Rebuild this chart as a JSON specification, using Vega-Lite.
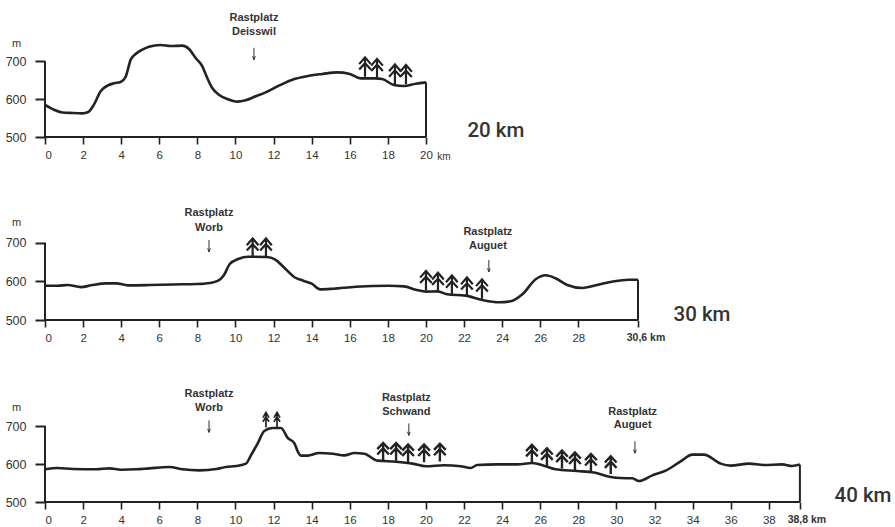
{
"$schema":"https://vega.github.io/schema/vega-lite/v6.json",
"background":"#ffffff",
"padding":{"left":5,"top":0,"right":0,"bottom":0},
"spacing":0,
"bounds":"flush",
"config":{"view":{"stroke":null},"axis":{"grid":false,"title":null}},
"vconcat":[
{"width":849,"height":137,"layer":[
{"data":{"values":[{"km":0,"ele":500,"km2":20}]},"mark":{"type":"rule","stroke":"#222","strokeWidth":2},"encoding":{
"x":{"field":"km","type":"quantitative","scale":{"domain":[0,44.57],"nice":false,"zero":false},"axis":{"values":[0,2,4,6,8,10,12,14,16,18,20],"domain":false,"tickSize":7,"tickWidth":1.6,"tickColor":"#222","labelPadding":5,"labelFont":"Liberation Sans","labelFontSize":11.5,"labelColor":"#333","title":null}},
"x2":{"field":"km2"},
"y":{"field":"ele","type":"quantitative","scale":{"domain":[500,862.4],"nice":false,"zero":false},"axis":{"values":[500,600,700],"domain":false,"tickSize":10,"tickWidth":2,"tickColor":"#222","labelPadding":9,"labelFont":"Liberation Sans","labelFontSize":12.5,"labelColor":"#333","title":"m","titleAngle":0,"titleX":-29,"titleY":48,"titleFont":"Liberation Sans","titleFontSize":11,"titleFontWeight":"normal","titleColor":"#333","titleAlign":"center"}}}},
{"data":{"values":[{"km":0,"ele":500,"ele2":700},{"km":20,"ele":500,"ele2":644.6}]},"mark":{"type":"rule","stroke":"#222","strokeWidth":2},"encoding":{"x":{"field":"km","type":"quantitative"},"y":{"field":"ele","type":"quantitative"},"y2":{"field":"ele2"}}},
{"data":{"values":[{"km":0,"ele":584.7},{"km":0.47,"ele":572},{"km":0.91,"ele":565},{"km":1.43,"ele":563.5},{"km":1.96,"ele":562.6},{"km":2.27,"ele":566},{"km":2.57,"ele":585.5},{"km":2.92,"ele":621},{"km":3.28,"ele":636},{"km":3.62,"ele":642},{"km":3.97,"ele":645.5},{"km":4.23,"ele":658.7},{"km":4.5,"ele":704.6},{"km":4.76,"ele":719.6},{"km":5.11,"ele":731},{"km":5.46,"ele":739},{"km":6.07,"ele":743.4},{"km":6.6,"ele":740.7},{"km":7.21,"ele":741.6},{"km":7.56,"ele":732.8},{"km":7.91,"ele":709},{"km":8.26,"ele":687},{"km":8.52,"ele":656},{"km":8.78,"ele":629.6},{"km":9.13,"ele":612},{"km":9.57,"ele":600.5},{"km":10.1,"ele":593.5},{"km":10.53,"ele":597},{"km":11.06,"ele":607.6},{"km":11.58,"ele":618},{"km":12.28,"ele":635.8},{"km":12.98,"ele":651.7},{"km":13.86,"ele":662},{"km":14.56,"ele":666.7},{"km":15.35,"ele":671},{"km":15.96,"ele":667.5},{"km":16.57,"ele":655},{"km":17.36,"ele":655},{"km":17.7,"ele":653.4},{"km":18.32,"ele":637.6},{"km":18.84,"ele":635},{"km":19.46,"ele":641},{"km":20,"ele":644.6}]},"mark":{"type":"line","interpolate":"monotone","stroke":"#222","strokeWidth":2.6},"encoding":{"x":{"field":"km","type":"quantitative"},"y":{"field":"ele","type":"quantitative"}}},
{"data":{"values":[{"km":16.8,"ele":685},{"km":17.43,"ele":681},{"km":18.37,"ele":666},{"km":18.95,"ele":665}]},"mark":{"type":"point","shape":"M0,1L0,-1M-.6,-.3L0,-1L.6,-.3M-.6,.25L0,-.4L.6,.25","size":380,"filled":false,"opacity":1,"stroke":"#222","strokeWidth":2.2},"encoding":{"x":{"field":"km","type":"quantitative"},"y":{"field":"ele","type":"quantitative"}}},
{"data":{"values":[{"km":10.97,"ele":720}]},"mark":{"type":"point","shape":"M0,-1L0,1M-.22,.4L0,1L.22,.4","size":144,"filled":false,"opacity":1,"stroke":"#333","strokeWidth":1},"encoding":{"x":{"field":"km","type":"quantitative"},"y":{"field":"ele","type":"quantitative"}}},
{"data":{"values":[{"km":10.97,"ele":815.6,"t":"Rastplatz"},{"km":10.97,"ele":779,"t":"Deisswil"}]},"mark":{"type":"text","font":"Liberation Sans","fontWeight":"bold","fontSize":11,"fill":"#333"},"encoding":{"x":{"field":"km","type":"quantitative"},"y":{"field":"ele","type":"quantitative"},"text":{"field":"t"}}},
{"data":{"values":[{"km":20.94,"ele":448,"t":"km"}]},"mark":{"type":"text","font":"Liberation Sans","fontSize":10,"fill":"#333"},"encoding":{"x":{"field":"km","type":"quantitative"},"y":{"field":"ele","type":"quantitative"},"text":{"field":"t"}}},
{"data":{"values":[{"km":23.67,"ele":516.7,"t":"20 km"}]},"mark":{"type":"text","font":"Roboto","fontWeight":500,"fontSize":20.5,"fill":"#333"},"encoding":{"x":{"field":"km","type":"quantitative"},"y":{"field":"ele","type":"quantitative"},"text":{"field":"t"}}}
]},
{"width":849,"height":183,"layer":[
{"data":{"values":[{"km":0,"ele":500,"km2":31.13}]},"mark":{"type":"rule","stroke":"#222","strokeWidth":2},"encoding":{
"x":{"field":"km","type":"quantitative","scale":{"domain":[0,44.57],"nice":false,"zero":false},"axis":{"values":[0,2,4,6,8,10,12,14,16,18,20,22,24,26,28,31.13],"labelExpr":"datum.value>30?'':datum.label","domain":false,"tickSize":7,"tickWidth":1.6,"tickColor":"#222","labelPadding":5,"labelFont":"Liberation Sans","labelFontSize":11.5,"labelColor":"#333","title":null}},
"x2":{"field":"km2"},
"y":{"field":"ele","type":"quantitative","scale":{"domain":[500,973.5],"nice":false,"zero":false},"axis":{"values":[500,600,700],"domain":false,"tickSize":10,"tickWidth":2,"tickColor":"#222","labelPadding":9,"labelFont":"Liberation Sans","labelFontSize":12.5,"labelColor":"#333","title":"m","titleAngle":0,"titleX":-29,"titleY":90,"titleFont":"Liberation Sans","titleFontSize":11,"titleFontWeight":"normal","titleColor":"#333","titleAlign":"center"}}}},
{"data":{"values":[{"km":0,"ele":500,"ele2":700},{"km":31.13,"ele":500,"ele2":604.3}]},"mark":{"type":"rule","stroke":"#222","strokeWidth":2},"encoding":{"x":{"field":"km","type":"quantitative"},"y":{"field":"ele","type":"quantitative"},"y2":{"field":"ele2"}}},
{"data":{"values":[{"km":0,"ele":588.8},{"km":0.67,"ele":588.8},{"km":1.19,"ele":590.5},{"km":1.89,"ele":585},{"km":2.42,"ele":589.7},{"km":3.21,"ele":594.8},{"km":3.74,"ele":594.8},{"km":4.35,"ele":589.7},{"km":5.49,"ele":590.5},{"km":6.72,"ele":592},{"km":7.95,"ele":593},{"km":8.65,"ele":595.7},{"km":9.09,"ele":601.7},{"km":9.39,"ele":616},{"km":9.7,"ele":644.8},{"km":10.14,"ele":657.8},{"km":10.67,"ele":663.8},{"km":11.63,"ele":663},{"km":12.07,"ele":657},{"km":12.51,"ele":638},{"km":13.12,"ele":610},{"km":13.56,"ele":601.7},{"km":14,"ele":594},{"km":14.44,"ele":579.3},{"km":15.14,"ele":581},{"km":16.31,"ele":586.2},{"km":18.06,"ele":588.8},{"km":18.85,"ele":587},{"km":19.46,"ele":578.5},{"km":20.02,"ele":573.3},{"km":20.6,"ele":574},{"km":21.12,"ele":566.4},{"km":22.08,"ele":563},{"km":22.96,"ele":551.7},{"km":23.83,"ele":545.8},{"km":24.45,"ele":548.4},{"km":25.06,"ele":566.4},{"km":25.76,"ele":605.3},{"km":26.28,"ele":615.6},{"km":26.8,"ele":607.9},{"km":27.42,"ele":590.6},{"km":28.2,"ele":582.8},{"km":29.25,"ele":594},{"km":30.66,"ele":604.3},{"km":31.13,"ele":604.3}]},"mark":{"type":"line","interpolate":"monotone","stroke":"#222","strokeWidth":2.6},"encoding":{"x":{"field":"km","type":"quantitative"},"y":{"field":"ele","type":"quantitative"}}},
{"data":{"values":[{"km":10.9,"ele":686},{"km":11.6,"ele":686},{"km":20,"ele":602},{"km":20.63,"ele":597},{"km":21.36,"ele":590},{"km":22.15,"ele":585},{"km":22.94,"ele":580}]},"mark":{"type":"point","shape":"M0,1L0,-1M-.6,-.3L0,-1L.6,-.3M-.6,.25L0,-.4L.6,.25","size":380,"filled":false,"opacity":1,"stroke":"#222","strokeWidth":2.2},"encoding":{"x":{"field":"km","type":"quantitative"},"y":{"field":"ele","type":"quantitative"}}},
{"data":{"values":[{"km":8.61,"ele":691.5},{"km":23.3,"ele":639.7}]},"mark":{"type":"point","shape":"M0,-1L0,1M-.22,.4L0,1L.22,.4","size":144,"filled":false,"opacity":1,"stroke":"#333","strokeWidth":1},"encoding":{"x":{"field":"km","type":"quantitative"},"y":{"field":"ele","type":"quantitative"}}},
{"data":{"values":[{"km":8.61,"ele":776.8,"t":"Rastplatz"},{"km":8.61,"ele":738,"t":"Worb"},{"km":23.25,"ele":727.7,"t":"Rastplatz"},{"km":23.25,"ele":691.5,"t":"Auguet"}]},"mark":{"type":"text","font":"Liberation Sans","fontWeight":"bold","fontSize":11,"fill":"#333"},"encoding":{"x":{"field":"km","type":"quantitative"},"y":{"field":"ele","type":"quantitative"},"text":{"field":"t"}}},
{"data":{"values":[{"km":31.55,"ele":454,"t":"30,6 km"}]},"mark":{"type":"text","font":"Liberation Sans","fontWeight":"bold","fontSize":10.5,"fill":"#333"},"encoding":{"x":{"field":"km","type":"quantitative"},"y":{"field":"ele","type":"quantitative"},"text":{"field":"t"}}},
{"data":{"values":[{"km":34.49,"ele":513,"t":"30 km"}]},"mark":{"type":"text","font":"Roboto","fontWeight":500,"fontSize":20.5,"fill":"#333"},"encoding":{"x":{"field":"km","type":"quantitative"},"y":{"field":"ele","type":"quantitative"},"text":{"field":"t"}}}
]},
{"width":849,"height":182,"layer":[
{"data":{"values":[{"km":0,"ele":500,"km2":39.63}]},"mark":{"type":"rule","stroke":"#222","strokeWidth":2},"encoding":{
"x":{"field":"km","type":"quantitative","scale":{"domain":[0,44.57],"nice":false,"zero":false},"axis":{"values":[0,2,4,6,8,10,12,14,16,18,20,22,24,26,28,30,32,34,36,38,39.63],"labelExpr":"datum.value>39?'':datum.label","domain":false,"tickSize":7,"tickWidth":1.6,"tickColor":"#222","labelPadding":5,"labelFont":"Liberation Sans","labelFontSize":11.5,"labelColor":"#333","title":null}},
"x2":{"field":"km2"},
"y":{"field":"ele","type":"quantitative","scale":{"domain":[500,979],"nice":false,"zero":false},"axis":{"values":[500,600,700],"domain":false,"tickSize":10,"tickWidth":2,"tickColor":"#222","labelPadding":9,"labelFont":"Liberation Sans","labelFontSize":12.5,"labelColor":"#333","title":"m","titleAngle":0,"titleX":-29,"titleY":92,"titleFont":"Liberation Sans","titleFontSize":11,"titleFontWeight":"normal","titleColor":"#333","titleAlign":"center"}}}},
{"data":{"values":[{"km":0,"ele":500,"ele2":700},{"km":39.63,"ele":500,"ele2":598.4}]},"mark":{"type":"rule","stroke":"#222","strokeWidth":2},"encoding":{"x":{"field":"km","type":"quantitative"},"y":{"field":"ele","type":"quantitative"},"y2":{"field":"ele2"}}},
{"data":{"values":[{"km":0,"ele":586},{"km":0.66,"ele":589.5},{"km":1.45,"ele":586.8},{"km":2.68,"ele":586},{"km":3.38,"ele":588.6},{"km":3.99,"ele":585},{"km":4.78,"ele":586},{"km":5.48,"ele":588.6},{"km":6.53,"ele":592},{"km":7.23,"ele":586},{"km":8.1,"ele":583.3},{"km":9,"ele":586.8},{"km":9.5,"ele":592},{"km":10.03,"ele":594.7},{"km":10.55,"ele":601},{"km":10.81,"ele":622.8},{"km":11.16,"ele":653.5},{"km":11.51,"ele":686.8},{"km":11.95,"ele":694.7},{"km":12.39,"ele":694.7},{"km":12.74,"ele":669},{"km":13.09,"ele":655},{"km":13.26,"ele":634},{"km":13.44,"ele":622},{"km":13.79,"ele":622},{"km":14.4,"ele":629},{"km":15.1,"ele":627},{"km":15.71,"ele":622.8},{"km":16.24,"ele":629},{"km":16.76,"ele":627},{"km":17.46,"ele":608.8},{"km":18.43,"ele":606},{"km":19.3,"ele":601},{"km":20,"ele":593.9},{"km":20.94,"ele":596.6},{"km":21.82,"ele":594},{"km":22.35,"ele":589.5},{"km":22.69,"ele":597.4},{"km":23.74,"ele":599},{"km":24.79,"ele":599},{"km":25.58,"ele":602.6},{"km":26.19,"ele":595.7},{"km":26.81,"ele":586},{"km":27.94,"ele":581.6},{"km":28.82,"ele":577.4},{"km":29.7,"ele":565.8},{"km":30.22,"ele":563},{"km":30.83,"ele":562.4},{"km":31.18,"ele":555.3},{"km":31.88,"ele":570},{"km":32.58,"ele":582.6},{"km":33.37,"ele":607},{"km":33.98,"ele":624.7},{"km":34.59,"ele":624.7},{"km":35.47,"ele":601},{"km":35.99,"ele":595.8},{"km":36.96,"ele":601},{"km":37.74,"ele":597.4},{"km":38.7,"ele":599},{"km":39.22,"ele":594.7},{"km":39.63,"ele":598.4}]},"mark":{"type":"line","interpolate":"monotone","stroke":"#222","strokeWidth":2.6},"encoding":{"x":{"field":"km","type":"quantitative"},"y":{"field":"ele","type":"quantitative"}}},
{"data":{"values":[{"km":17.75,"ele":632},{"km":18.43,"ele":632},{"km":19.06,"ele":628},{"km":19.9,"ele":628},{"km":20.73,"ele":630},{"km":25.56,"ele":627},{"km":26.35,"ele":618},{"km":27.14,"ele":612},{"km":27.82,"ele":607},{"km":28.66,"ele":603},{"km":29.7,"ele":597}]},"mark":{"type":"point","shape":"M0,1L0,-1M-.65,-.3L0,-1L.65,-.3M-.65,.3L0,-.4L.65,.3","size":320,"filled":false,"opacity":1,"stroke":"#222","strokeWidth":2.4},"encoding":{"x":{"field":"km","type":"quantitative"},"y":{"field":"ele","type":"quantitative"}}},
{"data":{"values":[{"km":11.6,"ele":716},{"km":12.18,"ele":716}]},"mark":{"type":"point","shape":"M0,1L0,-1M-.4,-.3L0,-1L.4,-.3M-.4,.25L0,-.4L.4,.25","size":225,"filled":false,"opacity":1,"stroke":"#222","strokeWidth":1.7},"encoding":{"x":{"field":"km","type":"quantitative"},"y":{"field":"ele","type":"quantitative"}}},
{"data":{"values":[{"km":8.61,"ele":699},{"km":19.1,"ele":691},{"km":30.97,"ele":644}]},"mark":{"type":"point","shape":"M0,-1L0,1M-.22,.4L0,1L.22,.4","size":144,"filled":false,"opacity":1,"stroke":"#333","strokeWidth":1},"encoding":{"x":{"field":"km","type":"quantitative"},"y":{"field":"ele","type":"quantitative"}}},
{"data":{"values":[{"km":8.61,"ele":783.4,"t":"Rastplatz"},{"km":8.61,"ele":746.6,"t":"Worb"},{"km":18.97,"ele":772.9,"t":"Rastplatz"},{"km":18.97,"ele":736,"t":"Schwand"},{"km":30.85,"ele":736,"t":"Rastplatz"},{"km":30.85,"ele":701.8,"t":"Auguet"}]},"mark":{"type":"text","font":"Liberation Sans","fontWeight":"bold","fontSize":11,"fill":"#333"},"encoding":{"x":{"field":"km","type":"quantitative"},"y":{"field":"ele","type":"quantitative"},"text":{"field":"t"}}},
{"data":{"values":[{"km":40,"ele":452,"t":"38,8 km"}]},"mark":{"type":"text","font":"Liberation Sans","fontWeight":"bold","fontSize":10.5,"fill":"#333"},"encoding":{"x":{"field":"km","type":"quantitative"},"y":{"field":"ele","type":"quantitative"},"text":{"field":"t"}}},
{"data":{"values":[{"km":42.94,"ele":515,"t":"40 km"}]},"mark":{"type":"text","font":"Roboto","fontWeight":500,"fontSize":20.5,"fill":"#333"},"encoding":{"x":{"field":"km","type":"quantitative"},"y":{"field":"ele","type":"quantitative"},"text":{"field":"t"}}}
]}
]}
